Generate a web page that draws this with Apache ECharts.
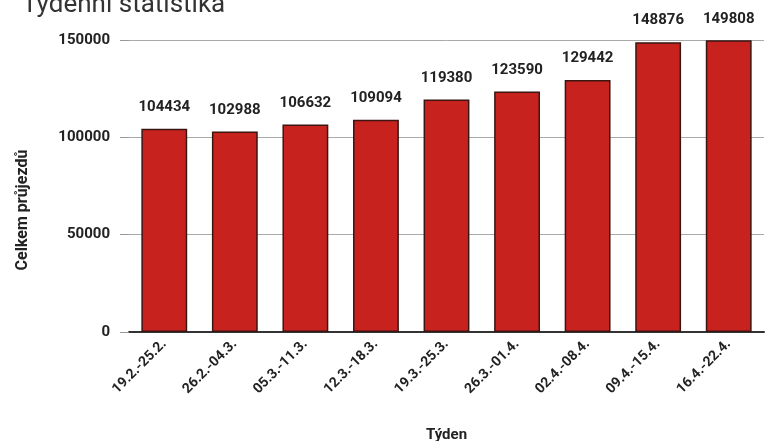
<!DOCTYPE html>
<html>
<head>
<meta charset="utf-8">
<script src="https://cdn.jsdelivr.net/npm/echarts@6/dist/echarts.min.js"></script>
<style>
html,body{margin:0;padding:0;background:#fff;}
#chart{width:773px;height:441px;}
</style>
</head>
<body>
<div id="chart"></div>
<script>
const weeks = ['19.2.-25.2.', '26.2.-04.3.', '05.3.-11.3.', '12.3.-18.3.', '19.3.-25.3.', '26.3.-01.4.', '02.4.-08.4.', '09.4.-15.4.', '16.4.-22.4.'];
const totals = [104434, 102988, 106632, 109094, 119380, 123590, 129442, 148876, 149808];
const yTicks = [0, 50000, 100000, 150000];

const chart = echarts.init(document.getElementById('chart'));
const font = 'Roboto, "Liberation Sans", sans-serif';
chart.setOption({
  animation: false,
  backgroundColor: '#ffffff',
  title: {
    text: 'Týdenní statistika',
    left: 17,
    top: -13,
    textStyle: { fontFamily: font, fontSize: 26, fontWeight: 'normal', color: '#333' }
  },
  grid: { left: 129, right: 9, top: 40, bottom: 109, containLabel: false, outerBoundsMode: 'none' },
  xAxis: {
    type: 'category',
    data: weeks,
    name: 'Týden',
    nameLocation: 'middle',
    nameGap: 96,
    nameTextStyle: { fontFamily: font, fontSize: 15, fontWeight: 'bold', color: '#222' },
    axisLine: { show: true, lineStyle: { color: '#333', width: 2 } },
    axisTick: { show: false },
    axisLabel: { rotate: 45, interval: 0, margin: 10, fontFamily: font, fontSize: 14, fontWeight: 'bold', color: '#222' }
  },
  yAxis: {
    type: 'value',
    min: 0,
    max: yTicks[yTicks.length - 1],
    interval: yTicks[1] - yTicks[0],
    axisLine: { show: false },
    axisTick: { show: true, length: 9, lineStyle: { color: '#999' } },
    splitLine: { show: true, lineStyle: { color: '#aaa', width: 1 } },
    axisLabel: { margin: 19, formatter: v => String(v), fontFamily: font, fontSize: 15, fontWeight: 'bold', color: '#222' }
  },
  graphic: [{
    type: 'text',
    x: 23, y: 210,
    rotation: Math.PI / 2,
    style: { text: 'Celkem průjezdů', fontFamily: font, fontSize: 16, fontWeight: 'bold', fill: '#222', textAlign: 'center', textVerticalAlign: 'middle' }
  }],
  series: [{
    type: 'bar',
    data: totals,
    barWidth: '65%',
    itemStyle: { color: '#c8221f', borderColor: '#3a1512', borderWidth: 1.5 },
    label: { show: true, position: 'top', distance: 14, fontFamily: font, fontSize: 15, fontWeight: 'bold', color: '#222' }
  }]
});
</script>
</body>
</html>
